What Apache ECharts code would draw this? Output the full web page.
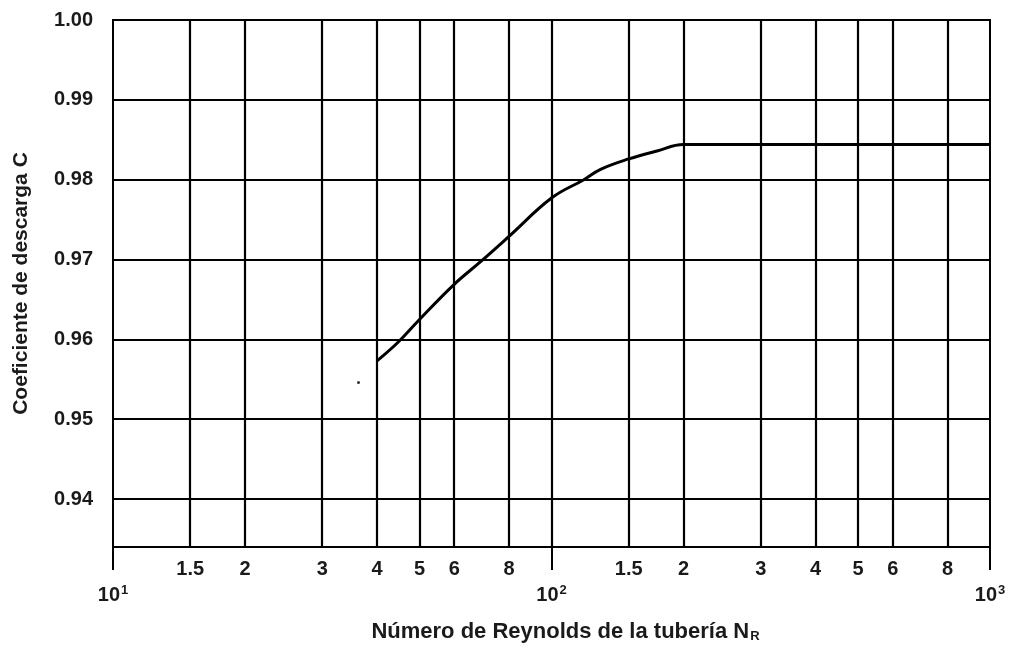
<!DOCTYPE html>
<html>
<head>
<meta charset="utf-8">
<script src="https://cdn.jsdelivr.net/npm/echarts@6/dist/echarts.min.js"></script>
<style>
  html, body { margin: 0; padding: 0; background: #fff; }
  #chart { width: 1012px; height: 648px; }
</style>
</head>
<body>
<div id="chart"></div>
<script>
// Discharge coefficient C versus pipe Reynolds number N_R
const reynolds = [40, 44.8, 50, 60, 68.8, 80, 100, 118.5, 129.4, 150, 174, 200, 1000];
const coefC    = [0.9573, 0.9597, 0.9625, 0.9669, 0.9697, 0.9729, 0.9777, 0.9800, 0.9813, 0.9826, 0.9836, 0.9844, 0.9844];

// Small isolated dot left of the curve start
const strayPoint = [[36.3, 0.9546]];

// Vertical grid lines within each decade and their labels
const xGridValues = [15, 20, 30, 40, 50, 60, 80, 100, 150, 200, 300, 400, 500, 600, 800];
const xGridLabels = ['1.5', '2', '3', '4', '5', '6', '8', '', '1.5', '2', '3', '4', '5', '6', '8'];

// Horizontal grid lines and y tick labels
const yGridValues = [0.94, 0.95, 0.96, 0.97, 0.98, 0.99, 1.00];
const yTickLabels = ['0.94', '0.95', '0.96', '0.97', '0.98', '0.99', '1.00'];

const font = 'Liberation Sans, Arial, sans-serif';
const ink = '#1a1a1a';

const chart = echarts.init(document.getElementById('chart'), null, { renderer: 'canvas' });

chart.setOption({
  animation: false,
  backgroundColor: '#fff',
  grid: {
    left: 113, right: 22, top: 20, bottom: 96,
    show: true, borderColor: '#000', borderWidth: 2, backgroundColor: 'transparent'
  },
  xAxis: {
    type: 'log',
    logBase: 10,
    min: 10,
    max: 1000,
    name: 'Número de Reynolds de la tubería N{sub|R}',
    nameLocation: 'middle',
    nameGap: 73,
    nameTextStyle: {
      fontFamily: font, fontSize: 22, fontWeight: 'bold', color: ink,
      padding: [0, 0, 0, 28],
      rich: { sub: { fontFamily: font, fontSize: 13, fontWeight: 'bold', color: ink, verticalAlign: 'bottom', padding: [10, 0, 0, 1] } }
    },
    axisLine: { show: true, lineStyle: { color: '#000', width: 2 } },
    axisTick: { show: true, length: 23, lineStyle: { color: '#000', width: 2 } },
    splitLine: { show: false },
    axisLabel: {
      margin: 37,
      fontFamily: font, fontSize: 20, fontWeight: 'bold', color: ink,
      formatter: function (v) {
        return '10{sup|' + Math.round(Math.log10(v)) + '}';
      },
      rich: { sup: { fontFamily: font, fontSize: 13, fontWeight: 'bold', color: ink, verticalAlign: 'top', padding: [0, 0, 10, 1] } }
    }
  },
  yAxis: {
    type: 'value',
    min: 0.934,
    max: 1.0,
    name: 'Coeficiente de descarga C',
    nameLocation: 'middle',
    nameGap: 81,
    nameTextStyle: { fontFamily: font, fontSize: 21, fontWeight: 'bold', color: ink },
    axisLine: { show: true, lineStyle: { color: '#000', width: 2 } },
    axisTick: { show: false },
    splitLine: { show: false },
    axisLabel: {
      customValues: yGridValues,
      margin: 20,
      fontFamily: font, fontSize: 20, fontWeight: 'bold', color: ink,
      formatter: function (v) {
        const i = yGridValues.findIndex(g => Math.abs(g - v) < 1e-9);
        return i >= 0 ? yTickLabels[i] : '';
      }
    }
  },
  series: [
    {
      name: 'grid',
      type: 'line',
      data: [],
      silent: true,
      markLine: {
        silent: true,
        symbol: ['none', 'none'],
        animation: false,
        lineStyle: { color: '#000', width: 2.2, type: 'solid' },
        emphasis: { disabled: true },
        data: xGridValues.map((v, i) => ({
          xAxis: v,
          label: {
            show: xGridLabels[i] !== '',
            position: 'start',
            distance: 12,
            formatter: xGridLabels[i],
            fontFamily: font, fontSize: 20, fontWeight: 'bold', color: ink
          }
        })).concat(yGridValues.map(v => ({ yAxis: v, label: { show: false } })))
      }
    },
    {
      name: 'C',
      type: 'line',
      data: reynolds.map((x, i) => [x, coefC[i]]),
      smooth: 0.4,
      showSymbol: false,
      symbol: 'none',
      lineStyle: { color: '#000', width: 3 },
      z: 5
    },
    {
      name: 'dot',
      type: 'scatter',
      data: strayPoint,
      symbolSize: 3,
      itemStyle: { color: '#000' },
      z: 5
    }
  ]
});
</script>
</body>
</html>
